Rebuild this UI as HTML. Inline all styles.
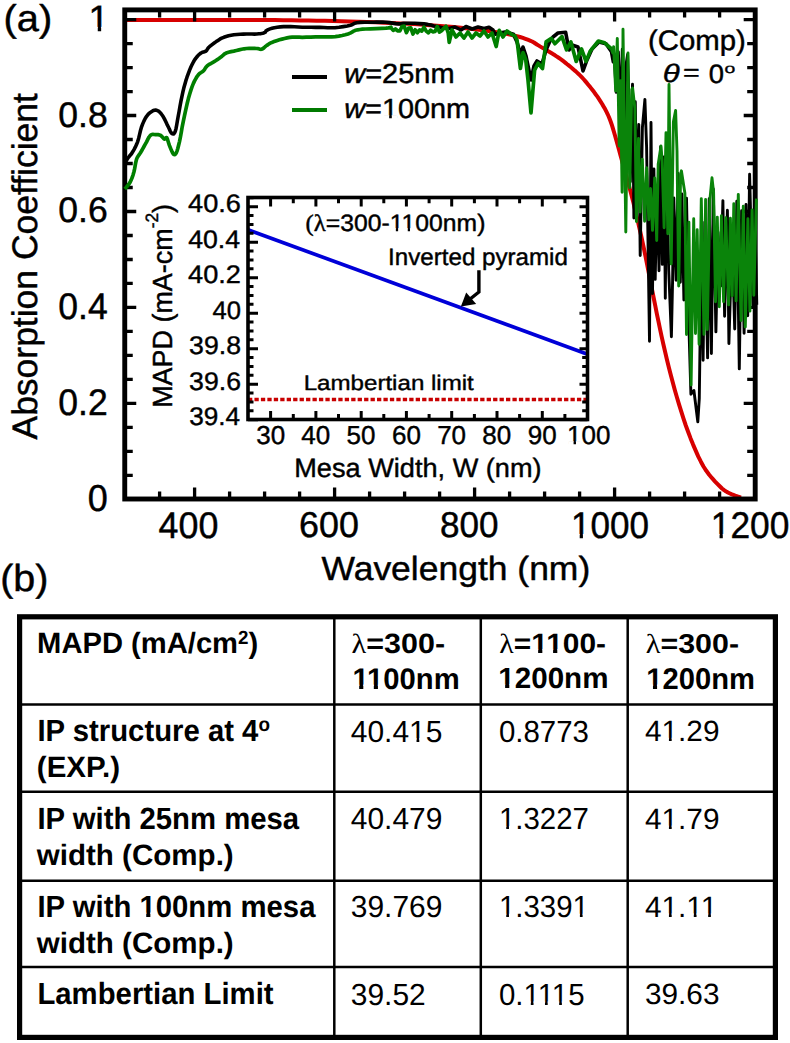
<!DOCTYPE html><html><head><meta charset="utf-8"><title>Absorption spectra and MAPD table</title><style>html,body{margin:0;padding:0;background:#fff;}svg{display:block;}text{font-family:"Liberation Sans",sans-serif;text-rendering:geometricPrecision;}</style></head><body>
<svg width="790" height="1043" viewBox="0 0 790 1043">
<rect width="790" height="1043" fill="#fff"/>
<polyline points="124.6,19.9 133.1,19.9 145.1,19.9 159.2,19.9 174.0,19.9 188.0,19.9 200.0,19.9 209.8,19.9 218.5,19.9 226.6,19.9 234.3,19.9 242.0,20.0 250.0,20.0 258.3,20.0 266.7,20.1 275.0,20.1 283.3,20.2 291.7,20.3 300.0,20.4 308.3,20.5 316.7,20.7 325.0,20.8 333.3,21.0 341.7,21.2 350.0,21.4 358.4,21.7 367.0,22.0 375.6,22.3 384.1,22.7 392.2,23.0 400.0,23.4 407.2,23.8 414.0,24.1 420.6,24.5 427.0,24.9 433.4,25.4 440.0,25.9 446.9,26.5 453.9,27.1 461.0,27.8 468.0,28.5 474.7,29.2 481.0,30.0 487.0,30.8 492.9,31.6 498.5,32.5 503.8,33.4 508.6,34.3 513.0,35.2 516.8,36.1 520.0,37.0 522.9,37.9 525.4,38.8 527.7,39.7 530.0,40.6 532.1,41.5 533.9,42.5 535.4,43.5 536.9,44.5 538.4,45.4 540.0,46.4 541.7,47.4 543.3,48.3 545.0,49.3 546.7,50.2 548.3,51.2 550.0,52.2 551.7,53.2 553.3,54.3 555.0,55.3 556.6,56.4 558.3,57.5 560.0,58.7 561.7,59.9 563.4,61.2 565.2,62.6 566.9,64.0 568.7,65.4 570.4,66.8 572.1,68.2 573.8,69.7 575.5,71.1 577.1,72.6 578.8,74.2 580.5,75.9 582.2,77.7 583.9,79.5 585.5,81.4 587.2,83.4 588.9,85.5 590.6,87.6 592.3,89.8 594.1,92.1 595.8,94.5 597.6,96.9 599.2,99.3 600.8,101.8 602.3,104.2 603.7,106.7 605.1,109.1 606.4,111.7 607.7,114.3 608.9,117.0 610.0,119.8 611.0,122.5 612.0,125.4 612.9,128.4 613.9,131.8 615.0,135.5 616.2,139.8 617.6,144.7 619.0,149.8 620.4,155.0 621.8,160.0 623.0,164.5 624.1,168.5 625.2,172.2 626.2,175.7 627.1,179.1 628.1,182.5 629.0,186.0 629.9,189.3 630.7,192.3 631.5,195.3 632.4,198.6 633.4,202.5 634.5,207.2 635.8,212.9 637.4,219.3 639.0,226.4 640.7,233.8 642.4,241.4 644.0,249.0 645.6,256.8 647.2,264.9 648.8,273.2 650.5,281.6 652.1,289.9 653.7,298.0 655.3,305.8 656.8,313.6 658.4,321.2 660.0,328.8 661.6,336.4 663.3,344.0 665.1,351.7 666.9,359.5 668.8,367.2 670.8,375.0 672.8,382.6 674.8,390.0 676.9,397.3 679.1,404.6 681.3,411.7 683.5,418.7 685.8,425.5 688.2,432.0 690.6,438.4 693.1,444.6 695.7,450.6 698.2,456.4 700.9,461.7 703.5,466.5 706.3,470.8 709.2,474.7 712.1,478.2 714.9,481.3 717.6,484.1 720.0,486.5 722.0,488.5 723.8,489.9 725.3,491.0 726.8,491.9 728.4,492.7 730.0,493.5 731.9,494.4 734.0,495.2 736.1,496.0 738.1,496.6 739.8,497.2 741.0,497.6" fill="none" stroke="#d70000" stroke-width="4.0" stroke-linejoin="round" stroke-linecap="butt" />
<g stroke="#000" fill="none">
<rect x="124.75" y="9.9" width="630.45" height="489.1" stroke-width="4.9"/>
<path d="M124.75,499.3h11.5M755.2,499.3h-11.5M124.75,475.3h8M755.2,475.3h-8M124.75,451.3h8M755.2,451.3h-8M124.75,427.3h8M755.2,427.3h-8M124.75,403.4h11.5M755.2,403.4h-11.5M124.75,379.4h8M755.2,379.4h-8M124.75,355.4h8M755.2,355.4h-8M124.75,331.4h8M755.2,331.4h-8M124.75,307.4h11.5M755.2,307.4h-11.5M124.75,283.4h8M755.2,283.4h-8M124.75,259.5h8M755.2,259.5h-8M124.75,235.5h8M755.2,235.5h-8M124.75,211.5h11.5M755.2,211.5h-11.5M124.75,187.5h8M755.2,187.5h-8M124.75,163.5h8M755.2,163.5h-8M124.75,139.5h8M755.2,139.5h-8M124.75,115.5h11.5M755.2,115.5h-11.5M124.75,91.6h8M755.2,91.6h-8M124.75,67.6h8M755.2,67.6h-8M124.75,43.6h8M755.2,43.6h-8M124.75,19.6h11.5M755.2,19.6h-11.5M159.6,499v-7.5M159.6,9.9v7.5M194.6,499v-11.5M194.6,9.9v11.5M229.6,499v-7.5M229.6,9.9v7.5M264.6,499v-7.5M264.6,9.9v7.5M299.6,499v-7.5M299.6,9.9v7.5M334.6,499v-11.5M334.6,9.9v11.5M369.6,499v-7.5M369.6,9.9v7.5M404.6,499v-7.5M404.6,9.9v7.5M439.6,499v-7.5M439.6,9.9v7.5M474.6,499v-11.5M474.6,9.9v11.5M509.6,499v-7.5M509.6,9.9v7.5M544.6,499v-7.5M544.6,9.9v7.5M579.6,499v-7.5M579.6,9.9v7.5M614.6,499v-11.5M614.6,9.9v11.5M649.6,499v-7.5M649.6,9.9v7.5M684.6,499v-7.5M684.6,9.9v7.5M719.6,499v-7.5M719.6,9.9v7.5" stroke-width="3.3"/>
</g>
<polyline points="124.8,163.0 125.3,162.1 126.1,160.9 127.0,159.5 128.0,158.0 129.1,156.6 130.2,155.2 131.5,153.7 132.7,151.8 134.0,149.6 135.3,147.2 136.5,144.6 137.7,141.6 138.7,138.2 139.6,134.3 140.5,130.5 141.5,127.0 142.7,123.9 143.9,121.1 145.2,118.5 146.6,116.3 148.1,114.4 149.7,112.9 151.4,111.7 152.9,110.8 154.3,110.3 155.5,110.1 156.8,110.3 158.0,110.8 159.3,111.7 160.5,112.9 161.7,114.5 163.0,116.3 164.3,118.6 165.6,121.3 166.9,124.1 168.1,126.5 169.2,128.7 170.1,130.8 171.0,132.5 171.9,133.5 172.8,133.9 173.6,133.9 174.4,133.1 175.2,131.5 176.0,128.7 176.7,125.0 177.4,120.8 178.2,116.3 179.1,111.5 180.0,106.2 181.0,100.9 182.0,96.1 182.9,91.9 183.8,88.1 184.8,84.5 185.8,80.9 187.0,77.2 188.3,73.6 189.6,70.1 190.9,67.0 192.2,64.3 193.4,62.0 194.6,59.9 195.9,58.1 197.2,56.5 198.4,55.1 199.7,54.0 201.0,53.0 202.3,52.3 203.7,51.9 205.0,51.5 206.1,51.0 206.8,50.3 207.2,49.5 207.7,48.6 208.6,47.5 210.1,46.2 212.1,44.6 214.2,43.0 216.2,41.6 218.0,40.4 219.8,39.2 221.7,38.2 223.8,37.3 226.1,36.5 228.5,35.8 231.1,35.3 233.9,34.8 237.0,34.5 240.2,34.2 243.5,34.1 246.6,34.0 249.4,34.0 252.0,34.0 254.4,34.1 256.7,34.0 258.9,33.8 261.0,33.6 262.8,33.2 264.3,32.8 265.2,32.3 265.6,31.6 265.9,31.0 266.8,30.3 268.2,29.6 270.0,28.9 272.0,28.3 274.4,27.7 277.2,27.3 280.3,26.9 283.6,26.6 287.1,26.5 290.7,26.6 294.4,26.8 298.3,27.0 302.3,27.2 306.6,27.3 311.2,27.3 315.7,27.4 320.0,27.4 323.9,27.5 327.6,27.7 331.3,27.8 335.0,27.7 339.1,27.3 343.3,26.6 347.3,25.9 350.5,25.2 352.5,24.5 353.6,23.8 354.7,23.2 356.8,22.7 360.3,22.4 364.6,22.3 369.2,22.2 373.3,22.2 376.7,22.1 379.9,22.1 382.9,22.1 386.0,22.2 389.3,22.6 392.6,23.1 395.8,23.6 398.6,23.9 400.6,23.9 402.1,23.6 403.7,23.3 406.2,23.2 410.0,23.2 414.7,23.3 419.6,23.6 423.9,23.9 427.5,24.4 430.9,25.1 433.9,25.9 436.6,26.5 439.1,27.0 441.4,27.5 443.3,27.9 444.6,28.2 449.0,28.5 455.0,27.0 461.0,30.0 466.0,26.5 472.0,29.0 478.0,27.0 484.0,28.5 489.0,27.2 493.0,30.0 495.2,34.3 500.0,33.0 505.0,32.0 509.0,33.0 513.4,34.3 517.0,42.0 519.5,50.5 521.0,54.0 523.0,47.0 526.0,56.0 531.0,80.0 534.0,66.0 537.0,61.0 542.0,64.0 546.0,50.0 550.0,41.0 553.0,37.0 558.0,33.0 565.6,32.2 569.0,50.0 572.0,45.0 578.0,47.0 583.0,71.0 587.0,60.0 592.0,49.0 599.0,42.0 606.0,43.7 611.0,51.0" fill="none" stroke="#000" stroke-width="3.6" stroke-linejoin="round" stroke-linecap="butt" />
<polyline points="611.0,51.0 613.0,62.0 614.2,55.8 616.2,92.4 618.4,51.7 620.6,115.5 622.3,49.1 624.2,171.2 625.6,67.5 627.6,54.5 628.9,101.4 630.3,181.8 632.5,84.3 633.9,218.0 635.3,101.8 636.6,191.3 638.8,124.4 640.2,255.6 642.4,127.5 644.9,99.4 646.6,147.0 649.5,341.3 651.0,122.5 652.5,293.6 653.9,169.0 655.2,279.4 657.1,186.2 659.0,270.8 660.6,146.7 662.3,264.4 664.0,156.9 665.3,298.2 666.6,160.5 668.7,269.8 671.4,336.7 672.6,280.3 673.8,197.9 676.1,280.2 678.1,173.5 680.3,282.2 681.9,194.0 683.9,300.0 686.5,198.1 689.1,332.9 690.9,394.2 693.9,390.5 697.8,421.9 699.3,398.5 701.3,249.6 703.1,360.3 704.8,222.1 707.6,357.9 709.2,198.8 711.4,353.6 713.3,189.0 715.9,331.9 718.0,232.1 720.7,286.0 722.9,200.6 724.6,316.2 727.4,210.2 728.9,343.6 732.1,234.9 734.7,329.0 736.8,201.3 739.3,368.9 741.6,210.8 744.1,333.3 746.0,204.5 747.7,315.8 749.6,174.2 752.9,305.2 754.9,218.6 756.8,304.7" fill="none" stroke="#000" stroke-width="2.9" stroke-linejoin="round" stroke-linecap="butt" />
<polyline points="124.8,189.0 125.8,187.9 127.2,186.2 128.8,184.3 130.1,182.2 131.2,179.9 132.2,177.5 133.1,174.8 133.9,172.0 134.6,168.9 135.2,165.5 135.8,162.2 136.5,159.4 137.3,157.4 138.2,156.0 139.2,154.6 140.3,153.0 141.5,151.0 142.7,148.8 144.0,146.5 145.3,144.2 146.6,141.8 147.9,139.2 149.1,137.0 150.4,135.3 151.7,134.5 152.9,134.4 154.1,134.5 155.4,134.6 156.7,134.6 158.0,134.7 159.3,134.9 160.5,135.3 161.6,136.2 162.6,137.3 163.5,138.4 164.3,139.1 165.0,138.9 165.6,138.2 166.2,137.6 166.8,137.8 167.4,139.1 168.0,141.0 168.7,143.2 169.4,145.4 170.3,147.7 171.3,150.1 172.3,152.3 173.2,153.8 174.0,154.5 174.7,154.6 175.4,154.2 176.2,153.0 177.0,151.1 177.8,148.5 178.6,145.3 179.5,141.6 180.4,137.2 181.3,132.2 182.2,126.8 183.3,121.4 184.5,115.7 185.8,109.7 187.1,103.8 188.4,98.6 189.7,94.1 190.9,90.1 192.1,86.6 193.4,83.4 194.7,80.6 196.0,78.3 197.2,76.3 198.5,74.6 199.8,73.3 201.1,72.5 202.3,71.7 203.5,70.8 204.5,69.6 205.3,68.2 206.2,66.9 207.3,65.7 208.7,64.7 210.3,63.8 212.0,62.9 213.7,61.9 215.6,60.7 217.6,59.4 219.6,58.0 221.3,56.8 222.6,55.7 223.6,54.7 224.7,53.8 226.3,53.0 228.5,52.3 231.1,51.6 233.8,51.1 236.5,50.5 239.0,49.9 241.6,49.3 244.1,48.8 246.6,48.5 249.2,48.3 252.0,48.3 254.5,48.4 256.7,48.5 258.3,48.7 259.6,49.1 260.6,49.3 261.8,49.2 263.1,48.5 264.3,47.5 265.5,46.4 266.8,45.4 268.0,44.6 269.0,43.9 270.3,43.2 271.9,42.4 274.1,41.6 276.6,40.7 279.4,39.8 282.0,39.1 284.5,38.5 287.1,37.9 289.7,37.4 292.2,37.1 294.6,37.0 296.8,37.1 299.2,37.2 302.3,37.3 306.2,37.2 310.8,37.1 315.6,36.9 320.0,36.8 324.1,36.8 328.0,36.8 331.7,36.8 335.3,36.6 338.8,36.1 342.1,35.5 345.2,34.8 348.0,34.0 350.2,33.1 352.0,32.1 353.6,31.1 355.6,30.3 357.7,29.8 359.9,29.5 362.4,29.2 365.7,29.0 370.4,28.8 376.2,28.6 381.8,28.4 386.0,28.2 388.4,27.9 389.8,27.6 390.5,27.4 391.0,27.2 391.0,27.9 393.2,30.4 395.4,29.0 397.6,30.8 399.8,31.0 402.0,26.5 404.2,26.1 406.4,32.7 408.6,28.1 410.8,27.9 413.0,34.0 415.2,29.8 417.4,32.7 419.6,29.8 421.8,31.1 424.0,27.2 426.2,31.1 428.4,32.9 430.6,30.2 432.8,31.9 435.0,31.4 437.2,26.5 439.4,32.1 441.6,30.7 443.8,28.4 446.0,26.2 448.2,32.9 449.2,42.4 452.0,30.0 456.0,37.0 460.0,33.0 464.0,38.0 468.0,32.0 472.0,38.0 476.0,33.0 480.0,36.0 484.0,31.0 488.0,37.0 492.0,33.0 496.2,46.5 499.2,30.3 503.0,37.0 507.0,31.0 511.4,34.3 515.0,36.0 517.0,40.0 520.4,68.5 523.0,52.5 525.7,59.6 528.0,80.0 531.0,112.8 534.6,70.3 538.1,63.2 542.5,68.5 546.1,41.9 551.4,38.4 554.9,43.7 562.0,36.6 566.5,49.9 570.9,41.9 576.2,61.4 581.5,49.0 586.0,61.4 590.4,50.8 598.4,41.0 604.6,42.8 611.6,49.0" fill="none" stroke="#007f00" stroke-width="3.7" stroke-linejoin="round" stroke-linecap="butt" />
<polyline points="611.6,49.0 612.8,53.0 613.6,46.6 615.7,91.0 617.3,38.4 619.2,146.0 620.5,80.7 622.1,192.3 623.0,29.2 625.8,232.0 628.0,53.0 629.7,187.8 631.8,89.4 632.6,88.0 634.9,108.3 636.4,221.6 638.5,138.5 640.1,212.0 642.3,159.1 644.6,221.2 646.7,167.8 648.8,219.7 650.5,188.4 652.5,230.4 654.7,177.9 656.7,240.5 658.2,164.1 661.0,146.0 662.1,160.1 664.1,227.7 666.0,132.8 667.8,233.7 669.0,84.5 671.2,264.0 673.4,121.8 675.6,110.4 677.0,150.7 678.7,286.0 680.6,174.4 681.4,170.8 684.9,193.3 686.5,334.5 688.9,222.1 691.1,385.0 693.7,218.8 695.5,333.6 697.2,229.8 699.1,344.3 701.3,198.6 704.0,334.4 705.6,199.4 707.3,329.5 709.9,199.6 712.0,177.8 713.6,192.3 715.5,301.7 717.3,217.1 719.3,306.8 721.4,215.7 723.6,301.8 725.8,217.8 728.6,304.9 730.4,218.2 732.2,295.7 733.8,203.8 736.1,300.9 738.3,194.4 741.1,320.5 743.3,206.2 745.3,327.0 747.9,218.8 749.9,311.1 752.1,209.9 753.8,295.2 756.4,198.6" fill="none" stroke="#0a840a" stroke-width="2.9" stroke-linejoin="round" stroke-linecap="butt" />
<line x1="292" y1="77" x2="327" y2="77" stroke="#000" stroke-width="4"/>
<line x1="292" y1="110" x2="327" y2="110" stroke="#007a00" stroke-width="4.2"/>
<rect x="248" y="197.5" width="339.5" height="222" fill="#fff"/>
<line x1="248.0" y1="229.77500000000043" x2="587.5250000000001" y2="354.20250000000055" stroke="#0000d8" stroke-width="3.7"/>
<line x1="248" y1="399.5" x2="587" y2="399.5" stroke="#c80000" stroke-width="3.3" stroke-dasharray="4.3 2.15"/>
<g stroke="#000" fill="none">
<rect x="248" y="197.5" width="339.5" height="222" stroke-width="3.6"/>
<path d="M248,419.7h10M587.5,419.7h-8M248,410.8h5.5M587.5,410.8h-5.3M248,402.0h5.5M587.5,402.0h-5.3M248,393.1h5.5M587.5,393.1h-5.3M248,384.2h10M587.5,384.2h-8M248,375.3h5.5M587.5,375.3h-5.3M248,366.5h5.5M587.5,366.5h-5.3M248,357.6h5.5M587.5,357.6h-5.3M248,348.7h10M587.5,348.7h-8M248,339.8h5.5M587.5,339.8h-5.3M248,331.0h5.5M587.5,331.0h-5.3M248,322.1h5.5M587.5,322.1h-5.3M248,313.2h10M587.5,313.2h-8M248,304.3h5.5M587.5,304.3h-5.3M248,295.4h5.5M587.5,295.4h-5.3M248,286.6h5.5M587.5,286.6h-5.3M248,277.7h10M587.5,277.7h-8M248,268.8h5.5M587.5,268.8h-5.3M248,260.0h5.5M587.5,260.0h-5.3M248,251.1h5.5M587.5,251.1h-5.3M248,242.2h10M587.5,242.2h-8M248,233.3h5.5M587.5,233.3h-5.3M248,224.5h5.5M587.5,224.5h-5.3M248,215.6h5.5M587.5,215.6h-5.3M248,206.7h10M587.5,206.7h-8M248,197.8h5.5M587.5,197.8h-5.3M270.6,419.5v-8.5M270.6,197.5v9.1M293.3,419.5v-5.5M293.3,197.5v5.7M315.9,419.5v-8.5M315.9,197.5v9.1M338.5,419.5v-5.5M338.5,197.5v5.7M361.2,419.5v-8.5M361.2,197.5v9.1M383.8,419.5v-5.5M383.8,197.5v5.7M406.4,419.5v-8.5M406.4,197.5v9.1M429.1,419.5v-5.5M429.1,197.5v5.7M451.7,419.5v-8.5M451.7,197.5v9.1M474.4,419.5v-5.5M474.4,197.5v5.7M497.0,419.5v-8.5M497.0,197.5v9.1M519.6,419.5v-5.5M519.6,197.5v5.7M542.3,419.5v-8.5M542.3,197.5v9.1M564.9,419.5v-5.5M564.9,197.5v5.7" stroke-width="3"/>
<path d="M478.9,270.3 V292 L469.5,299.5" stroke-width="3.4" stroke-linejoin="miter"/>
</g>
<path d="M460.9,306.6 L466.2,292.6 L476.2,303.9 Z" fill="#000"/>
<g stroke="#000" fill="none">
<rect x="19.6" y="616.8" width="755.8" height="420.6" stroke-width="5.2"/>
<line x1="19.6" y1="704.4" x2="775.4" y2="704.4" stroke-width="2.5"/>
<line x1="19.6" y1="791.8" x2="775.4" y2="791.8" stroke-width="2.5"/>
<line x1="19.6" y1="880.8" x2="775.4" y2="880.8" stroke-width="2.5"/>
<line x1="19.6" y1="967" x2="775.4" y2="967" stroke-width="2.5"/>
<line x1="334.3" y1="616.8" x2="334.3" y2="1037.4" stroke-width="2.5"/>
<line x1="480.8" y1="616.8" x2="480.8" y2="1037.4" stroke-width="2.5"/>
<line x1="627.7" y1="616.8" x2="627.7" y2="1037.4" stroke-width="2.5"/>
</g>
<g transform="translate(-0.59,-1.92) scale(1.0476,0.9833)"><text x="4" y="33" font-size="38" text-anchor="start" stroke="#000" stroke-width="0.45" stroke-linejoin="round">(a)</text></g>
<g transform="translate(-2.55,-1.17) scale(1.0240,1.0240)"><text x="109" y="31.5" font-size="36" text-anchor="end" stroke="#000" stroke-width="0.45" stroke-linejoin="round">1</text><rect x="90.30" y="27.40" width="7.65" height="7.30" fill="#fff"/><rect x="101.27" y="27.40" width="7.37" height="7.30" fill="#fff"/></g>
<g transform="translate(0.05,1.08) scale(0.9875,0.9885)"><text x="109" y="126.9" font-size="36" text-anchor="end" stroke="#000" stroke-width="0.45" stroke-linejoin="round">0.8</text></g>
<g transform="translate(0.05,1.98) scale(0.9875,0.9885)"><text x="109" y="222.70000000000002" font-size="36" text-anchor="end" stroke="#000" stroke-width="0.45" stroke-linejoin="round">0.6</text></g>
<g transform="translate(0.05,-8.73) scale(0.9875,1.0280)"><text x="109" y="318.5" font-size="36" text-anchor="end" stroke="#000" stroke-width="0.45" stroke-linejoin="round">0.4</text></g>
<g transform="translate(0.05,-10.59) scale(0.9875,1.0280)"><text x="109" y="414.30000000000007" font-size="36" text-anchor="end" stroke="#000" stroke-width="0.45" stroke-linejoin="round">0.2</text></g>
<g transform="translate(-1.30,-20.34) scale(1.0000,1.0400)"><text x="109" y="511" font-size="36" text-anchor="end" stroke="#000" stroke-width="0.45" stroke-linejoin="round">0</text></g>
<g transform="translate(1.42,-14.76) scale(0.9948,1.0280)"><text x="188" y="538" font-size="36" text-anchor="middle" stroke="#000" stroke-width="0.45" stroke-linejoin="round">400</text></g>
<g transform="translate(1.68,3.55) scale(0.9947,0.9923)"><text x="329" y="538" font-size="36" text-anchor="middle" stroke="#000" stroke-width="0.45" stroke-linejoin="round">600</text></g>
<g transform="translate(12.48,3.55) scale(0.9741,0.9923)"><text x="469" y="538" font-size="36" text-anchor="middle" stroke="#000" stroke-width="0.45" stroke-linejoin="round">800</text></g>
<g transform="translate(15.01,-17.02) scale(0.9737,1.0320)"><text x="611" y="538" font-size="36" text-anchor="middle" stroke="#000" stroke-width="0.45" stroke-linejoin="round">1000</text><rect x="572.29" y="533.90" width="7.65" height="7.30" fill="#fff"/><rect x="583.26" y="533.90" width="7.37" height="7.30" fill="#fff"/></g>
<g transform="translate(18.74,-17.02) scale(0.9816,1.0320)"><text x="745" y="538" font-size="36" text-anchor="middle" stroke="#000" stroke-width="0.45" stroke-linejoin="round">1200</text><rect x="706.29" y="533.90" width="7.65" height="7.30" fill="#fff"/><rect x="717.26" y="533.90" width="7.37" height="7.30" fill="#fff"/></g>
<g transform="translate(-6.21,23.63) scale(1.0133,0.9559)"><text x="456" y="582" font-size="35" text-anchor="middle" stroke="#000" stroke-width="0.45" stroke-linejoin="round">Wavelength (nm)</text></g>
<g transform="translate(0.00,0.58) scale(1.0000,0.9991)"><text transform="translate(37.2,266) rotate(-90)" x="0" y="0" font-size="35.5" text-anchor="middle" stroke="#000" stroke-width="0.45" stroke-linejoin="round">Absorption Coefficient</text></g>
<g transform="translate(-12.68,-0.38) scale(1.0346,0.9905)"><text x="345" y="84.5" font-size="28" text-anchor="start" stroke="#000" stroke-width="0.45" stroke-linejoin="round"><tspan font-style="italic">w</tspan>=25nm</text></g>
<g transform="translate(-11.08,-0.05) scale(1.0300,0.9905)"><text x="345" y="119.5" font-size="28" text-anchor="start" stroke="#000" stroke-width="0.45" stroke-linejoin="round"><tspan font-style="italic">w</tspan>=100nm</text><rect x="382.62" y="116.31" width="5.95" height="6.39" fill="#fff"/><rect x="391.15" y="116.31" width="5.73" height="6.39" fill="#fff"/></g>
<g transform="translate(-7.99,-0.41) scale(1.0118,0.9778)"><text x="745" y="52" font-size="29" text-anchor="end" stroke="#000" stroke-width="0.45" stroke-linejoin="round">(Comp)</text></g>
<g transform="translate(-77.10,7.70) scale(1.1143,0.9000)"><text x="664" y="83" font-size="28" text-anchor="start" stroke="#000" stroke-width="0.45" stroke-linejoin="round" font-family="Liberation Serif" font-style="italic">θ</text></g>
<g transform="translate(-15.68,8.08) scale(1.0214,0.8800)"><text x="684" y="83" font-size="28" text-anchor="start" stroke="#000" stroke-width="0.45" stroke-linejoin="round">=</text></g>
<g transform="translate(14.91,4.00) scale(0.9786,0.9476)"><text x="709" y="83" font-size="28" text-anchor="start" stroke="#000" stroke-width="0.45" stroke-linejoin="round">0</text></g>
<g transform="translate(-100.23,14.00) scale(1.1375,0.8000)"><text x="725" y="74" font-size="17" text-anchor="start" stroke="#000" stroke-width="0.45" stroke-linejoin="round">o</text></g>
<g transform="translate(7.25,16.93) scale(0.9698,0.9143)"><text x="241" y="213.5" font-size="28" text-anchor="end" stroke="#000" stroke-width="0.45" stroke-linejoin="round">40.6</text></g>
<g transform="translate(10.60,20.46) scale(0.9519,0.9143)"><text x="241" y="249.0300000000005" font-size="28" text-anchor="end" stroke="#000" stroke-width="0.45" stroke-linejoin="round">40.4</text></g>
<g transform="translate(7.25,23.07) scale(0.9698,0.9143)"><text x="241" y="284.5599999999998" font-size="28" text-anchor="end" stroke="#000" stroke-width="0.45" stroke-linejoin="round">40.2</text></g>
<g transform="translate(11.77,29.22) scale(0.9509,0.9143)"><text x="241" y="355.62000000000074" font-size="28" text-anchor="end" stroke="#000" stroke-width="0.45" stroke-linejoin="round">39.8</text></g>
<g transform="translate(11.77,32.75) scale(0.9509,0.9143)"><text x="241" y="391.15000000000003" font-size="28" text-anchor="end" stroke="#000" stroke-width="0.45" stroke-linejoin="round">39.6</text></g>
<g transform="translate(15.07,35.37) scale(0.9333,0.9143)"><text x="241" y="426.6800000000005" font-size="28" text-anchor="end" stroke="#000" stroke-width="0.45" stroke-linejoin="round">39.4</text></g>
<g transform="translate(20.57,26.60) scale(0.9143,0.9143)"><text x="241" y="320.09000000000026" font-size="28" text-anchor="end" stroke="#000" stroke-width="0.45" stroke-linejoin="round">40</text></g>
<g transform="translate(19.42,30.43) scale(0.9286,0.9286)"><text x="270.6" y="445.5" font-size="28" text-anchor="middle" stroke="#000" stroke-width="0.45" stroke-linejoin="round">30</text></g>
<g transform="translate(22.47,30.43) scale(0.9286,0.9286)"><text x="315.90000000000003" y="445.5" font-size="28" text-anchor="middle" stroke="#000" stroke-width="0.45" stroke-linejoin="round">40</text></g>
<g transform="translate(25.52,30.43) scale(0.9286,0.9286)"><text x="361.20000000000005" y="445.5" font-size="28" text-anchor="middle" stroke="#000" stroke-width="0.45" stroke-linejoin="round">50</text></g>
<g transform="translate(29.04,30.43) scale(0.9286,0.9286)"><text x="406.5" y="445.5" font-size="28" text-anchor="middle" stroke="#000" stroke-width="0.45" stroke-linejoin="round">60</text></g>
<g transform="translate(32.09,30.43) scale(0.9286,0.9286)"><text x="451.80000000000007" y="445.5" font-size="28" text-anchor="middle" stroke="#000" stroke-width="0.45" stroke-linejoin="round">70</text></g>
<g transform="translate(35.14,30.43) scale(0.9286,0.9286)"><text x="497.1" y="445.5" font-size="28" text-anchor="middle" stroke="#000" stroke-width="0.45" stroke-linejoin="round">80</text></g>
<g transform="translate(38.65,30.43) scale(0.9286,0.9286)"><text x="542.4000000000001" y="445.5" font-size="28" text-anchor="middle" stroke="#000" stroke-width="0.45" stroke-linejoin="round">90</text></g>
<g transform="translate(41.28,30.43) scale(0.9286,0.9286)"><text x="589.6" y="445.5" font-size="28" text-anchor="middle" stroke="#000" stroke-width="0.45" stroke-linejoin="round">100</text><rect x="567.28" y="442.31" width="5.95" height="6.39" fill="#fff"/><rect x="575.81" y="442.31" width="5.73" height="6.39" fill="#fff"/></g>
<g transform="translate(-2.29,9.19) scale(1.0053,0.9808)"><text x="418" y="477" font-size="27" text-anchor="middle" stroke="#000" stroke-width="0.45" stroke-linejoin="round">Mesa Width, W (nm)</text></g>
<g transform="translate(1.90,11.59) scale(0.9890,0.9617)"><text transform="translate(172.2,306) rotate(-90)" x="0" y="0" font-size="28" text-anchor="middle" stroke="#000" stroke-width="0.45" stroke-linejoin="round">MAPD (mA-cm<tspan font-size="18" dy="-14">-2</tspan><tspan dy="14">)</tspan></text></g>
<g transform="translate(-9.45,3.38) scale(1.0295,0.9870)"><text x="306" y="230.5" font-size="24" text-anchor="start" stroke="#000" stroke-width="0.45" stroke-linejoin="round"><tspan font-family="Liberation Serif">(λ</tspan>=300-1100nm)</text><rect x="388.58" y="227.77" width="5.10" height="5.93" fill="#fff"/><rect x="395.89" y="227.77" width="4.91" height="5.93" fill="#fff"/><rect x="400.14" y="227.77" width="5.10" height="5.93" fill="#fff"/><rect x="407.45" y="227.77" width="4.91" height="5.93" fill="#fff"/></g>
<g transform="translate(-4.13,3.22) scale(1.0057,0.9870)"><text x="390" y="265" font-size="24" text-anchor="start" stroke="#000" stroke-width="0.45" stroke-linejoin="round">Inverted pyramid</text></g>
<g transform="translate(-3.58,46.63) scale(1.0042,0.8789)"><text x="306" y="390.3" font-size="24" text-anchor="start" stroke="#000" stroke-width="0.45" stroke-linejoin="round">Lambertian limit</text></g>
<g transform="translate(-1.85,2.42) scale(1.0381,0.9917)"><text x="2" y="594" font-size="38" text-anchor="start" stroke="#000" stroke-width="0.45" stroke-linejoin="round">(b)</text></g>
<g transform="translate(-0.45,1.66) scale(0.9886,0.9964)"><text x="38" y="653.5" font-size="29.5" text-anchor="start" font-weight="bold">MAPD (mA/cm<tspan font-size="19" dy="-9">2</tspan><tspan dy="9">)</tspan></text></g>
<g transform="translate(-11.63,37.27) scale(1.0318,0.9429)"><text x="352" y="653.5" font-size="29.5" text-anchor="start" font-weight="bold"><tspan font-family="Liberation Serif" font-weight="normal">λ</tspan>=300-</text></g>
<g transform="translate(2.81,-6.38) scale(0.9904,1.0100)"><text x="353" y="688.3" font-size="29.5" text-anchor="start" font-weight="bold">1100nm</text><rect x="353.72" y="684.12" width="6.11" height="7.38" fill="#fff"/><rect x="363.99" y="684.12" width="5.72" height="7.38" fill="#fff"/><rect x="368.49" y="684.12" width="6.11" height="7.38" fill="#fff"/><rect x="378.76" y="684.12" width="5.72" height="7.38" fill="#fff"/></g>
<g transform="translate(-7.02,36.97) scale(1.0126,0.9429)"><text x="500" y="653.5" font-size="29.5" text-anchor="start" font-weight="bold"><tspan font-family="Liberation Serif" font-weight="normal">λ</tspan>=1100-</text><rect x="532.25" y="649.32" width="6.11" height="7.38" fill="#fff"/><rect x="542.52" y="649.32" width="5.72" height="7.38" fill="#fff"/><rect x="547.03" y="649.32" width="6.11" height="7.38" fill="#fff"/><rect x="557.30" y="649.32" width="5.72" height="7.38" fill="#fff"/></g>
<g transform="translate(-3.12,7.08) scale(1.0028,0.9900)"><text x="500" y="688.3" font-size="29.5" text-anchor="start" font-weight="bold">1200nm</text><rect x="500.72" y="684.12" width="6.11" height="7.38" fill="#fff"/><rect x="510.99" y="684.12" width="5.72" height="7.38" fill="#fff"/></g>
<g transform="translate(-19.32,46.21) scale(1.0295,0.9286)"><text x="646" y="653.5" font-size="29.5" text-anchor="start" font-weight="bold"><tspan font-family="Liberation Serif" font-weight="normal">λ</tspan>=300-</text></g>
<g transform="translate(6.92,-9.92) scale(0.9896,1.0150)"><text x="646" y="688.3" font-size="29.5" text-anchor="start" font-weight="bold">1200nm</text><rect x="646.72" y="684.12" width="6.11" height="7.38" fill="#fff"/><rect x="656.99" y="684.12" width="5.72" height="7.38" fill="#fff"/></g>
<g transform="translate(-1.33,-30.08) scale(0.9935,1.0400)"><text x="39" y="741.6" font-size="29.5" text-anchor="start" font-weight="bold">IP structure at 4<tspan font-size="19" dy="-10">o</tspan></text></g>
<g transform="translate(-2.25,0.60) scale(1.0013,1.0000)"><text x="39" y="776.4" font-size="29.5" text-anchor="start" font-weight="bold">(EXP.)</text></g>
<g transform="translate(-1.33,57.72) scale(0.9935,1.0400)"><text x="39" y="741.6" font-size="29.5" text-anchor="start" font-weight="bold">IP with 25nm mesa</text></g>
<g transform="translate(-2.25,88.40) scale(1.0013,1.0000)"><text x="39" y="776.4" font-size="29.5" text-anchor="start" font-weight="bold">width (Comp.)</text></g>
<g transform="translate(-1.33,145.52) scale(0.9935,1.0400)"><text x="39" y="741.6" font-size="29.5" text-anchor="start" font-weight="bold">IP with 100nm mesa</text><rect x="142.42" y="737.42" width="6.11" height="7.38" fill="#fff"/><rect x="152.69" y="737.42" width="5.72" height="7.38" fill="#fff"/></g>
<g transform="translate(-2.25,176.20) scale(1.0013,1.0000)"><text x="39" y="776.4" font-size="29.5" text-anchor="start" font-weight="bold">width (Comp.)</text></g>
<g transform="translate(-1.33,233.22) scale(0.9935,1.0400)"><text x="39" y="741.6" font-size="29.5" text-anchor="start" font-weight="bold">Lambertian Limit</text></g>
<g transform="translate(-0.41,-10.70) scale(0.9978,1.0143)"><text x="352" y="741.7" font-size="30" text-anchor="start">40.415</text><rect x="411.49" y="738.29" width="6.37" height="6.61" fill="#fff"/><rect x="420.63" y="738.29" width="6.14" height="6.61" fill="#fff"/></g>
<g transform="translate(8.47,-10.70) scale(0.9809,1.0143)"><text x="500" y="741.7" font-size="30" text-anchor="start">0.8773</text></g>
<g transform="translate(3.33,17.07) scale(0.9932,0.9762)"><text x="646" y="741.7" font-size="30" text-anchor="start">41.29</text><rect x="663.79" y="738.29" width="6.37" height="6.61" fill="#fff"/><rect x="672.93" y="738.29" width="6.14" height="6.61" fill="#fff"/></g>
<g transform="translate(-0.41,77.10) scale(0.9978,1.0143)"><text x="352" y="741.7" font-size="30" text-anchor="start">40.479</text></g>
<g transform="translate(8.47,77.10) scale(0.9809,1.0143)"><text x="500" y="741.7" font-size="30" text-anchor="start">1.3227</text><rect x="501.11" y="738.29" width="6.37" height="6.61" fill="#fff"/><rect x="510.25" y="738.29" width="6.14" height="6.61" fill="#fff"/></g>
<g transform="translate(3.33,104.87) scale(0.9932,0.9762)"><text x="646" y="741.7" font-size="30" text-anchor="start">41.79</text><rect x="663.79" y="738.29" width="6.37" height="6.61" fill="#fff"/><rect x="672.93" y="738.29" width="6.14" height="6.61" fill="#fff"/></g>
<g transform="translate(-0.41,164.90) scale(0.9978,1.0143)"><text x="352" y="741.7" font-size="30" text-anchor="start">39.769</text></g>
<g transform="translate(8.47,164.90) scale(0.9809,1.0143)"><text x="500" y="741.7" font-size="30" text-anchor="start">1.3391</text><rect x="501.11" y="738.29" width="6.37" height="6.61" fill="#fff"/><rect x="510.25" y="738.29" width="6.14" height="6.61" fill="#fff"/><rect x="576.18" y="738.29" width="6.37" height="6.61" fill="#fff"/><rect x="585.32" y="738.29" width="6.14" height="6.61" fill="#fff"/></g>
<g transform="translate(3.33,192.67) scale(0.9932,0.9762)"><text x="646" y="741.7" font-size="30" text-anchor="start">41.11</text><rect x="663.79" y="738.29" width="6.37" height="6.61" fill="#fff"/><rect x="672.93" y="738.29" width="6.14" height="6.61" fill="#fff"/><rect x="688.82" y="738.29" width="6.37" height="6.61" fill="#fff"/><rect x="697.96" y="738.29" width="6.14" height="6.61" fill="#fff"/><rect x="703.27" y="738.29" width="6.37" height="6.61" fill="#fff"/><rect x="712.41" y="738.29" width="6.14" height="6.61" fill="#fff"/></g>
<g transform="translate(-0.41,252.60) scale(0.9978,1.0143)"><text x="352" y="741.7" font-size="30" text-anchor="start">39.52</text></g>
<g transform="translate(8.47,252.60) scale(0.9809,1.0143)"><text x="500" y="741.7" font-size="30" text-anchor="start">0.1115</text><rect x="526.13" y="738.29" width="6.37" height="6.61" fill="#fff"/><rect x="535.27" y="738.29" width="6.14" height="6.61" fill="#fff"/><rect x="540.58" y="738.29" width="6.37" height="6.61" fill="#fff"/><rect x="549.72" y="738.29" width="6.14" height="6.61" fill="#fff"/><rect x="555.04" y="738.29" width="6.37" height="6.61" fill="#fff"/><rect x="564.18" y="738.29" width="6.14" height="6.61" fill="#fff"/></g>
<g transform="translate(3.33,280.37) scale(0.9932,0.9762)"><text x="646" y="741.7" font-size="30" text-anchor="start">39.63</text></g>
</svg></body></html>
